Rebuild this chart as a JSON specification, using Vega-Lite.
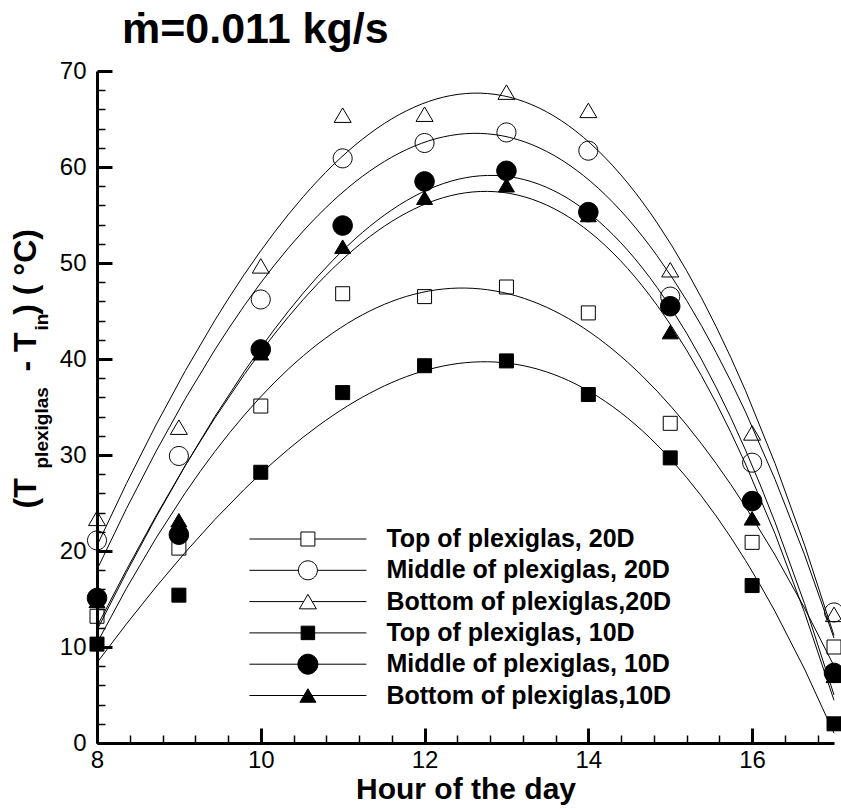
{
  "$schema": "https://vega.github.io/schema/vega-lite/v6.json",
  "autosize": {"type": "none"},
  "padding": {"left": 97, "top": 71, "right": 7, "bottom": 66},
  "width": 737,
  "height": 672,
  "title": {"text": "ṁ=0.011 kg/s", "anchor": "start", "frame": "group", "dx": 25, "fontSize": 43, "fontWeight": "bold", "font": "Liberation Sans", "color": "black", "offset": -27, "baseline": "alphabetic"},
  "config": {"view": {"stroke": null}, "font": "Liberation Sans", "axis": {"grid": false, "domainColor": "black", "tickColor": "black", "labelColor": "black", "titleColor": "black"}},
  "data": {"values": [
    {"series": "Top of plexiglas, 20D", "h": 8, "v": 13.2},
    {"series": "Top of plexiglas, 20D", "h": 9, "v": 20.3},
    {"series": "Top of plexiglas, 20D", "h": 10, "v": 35.1},
    {"series": "Top of plexiglas, 20D", "h": 11, "v": 46.8},
    {"series": "Top of plexiglas, 20D", "h": 12, "v": 46.5},
    {"series": "Top of plexiglas, 20D", "h": 13, "v": 47.5},
    {"series": "Top of plexiglas, 20D", "h": 14, "v": 44.8},
    {"series": "Top of plexiglas, 20D", "h": 15, "v": 33.3},
    {"series": "Top of plexiglas, 20D", "h": 16, "v": 20.9},
    {"series": "Top of plexiglas, 20D", "h": 17, "v": 10.0},
    {"series": "Middle of plexiglas, 20D", "h": 8, "v": 21.1},
    {"series": "Middle of plexiglas, 20D", "h": 9, "v": 29.9},
    {"series": "Middle of plexiglas, 20D", "h": 10, "v": 46.2},
    {"series": "Middle of plexiglas, 20D", "h": 11, "v": 60.9},
    {"series": "Middle of plexiglas, 20D", "h": 12, "v": 62.5},
    {"series": "Middle of plexiglas, 20D", "h": 13, "v": 63.6},
    {"series": "Middle of plexiglas, 20D", "h": 14, "v": 61.7},
    {"series": "Middle of plexiglas, 20D", "h": 15, "v": 46.5},
    {"series": "Middle of plexiglas, 20D", "h": 16, "v": 29.2},
    {"series": "Middle of plexiglas, 20D", "h": 17, "v": 13.6},
    {"series": "Bottom of plexiglas,20D", "h": 8, "v": 23.4},
    {"series": "Bottom of plexiglas,20D", "h": 9, "v": 32.9},
    {"series": "Bottom of plexiglas,20D", "h": 10, "v": 49.7},
    {"series": "Bottom of plexiglas,20D", "h": 11, "v": 65.4},
    {"series": "Bottom of plexiglas,20D", "h": 12, "v": 65.5},
    {"series": "Bottom of plexiglas,20D", "h": 13, "v": 67.8},
    {"series": "Bottom of plexiglas,20D", "h": 14, "v": 65.9},
    {"series": "Bottom of plexiglas,20D", "h": 15, "v": 49.3},
    {"series": "Bottom of plexiglas,20D", "h": 16, "v": 32.3},
    {"series": "Bottom of plexiglas,20D", "h": 17, "v": 13.4},
    {"series": "Top of plexiglas, 10D", "h": 8, "v": 10.3},
    {"series": "Top of plexiglas, 10D", "h": 9, "v": 15.4},
    {"series": "Top of plexiglas, 10D", "h": 10, "v": 28.2},
    {"series": "Top of plexiglas, 10D", "h": 11, "v": 36.5},
    {"series": "Top of plexiglas, 10D", "h": 12, "v": 39.3},
    {"series": "Top of plexiglas, 10D", "h": 13, "v": 39.8},
    {"series": "Top of plexiglas, 10D", "h": 14, "v": 36.3},
    {"series": "Top of plexiglas, 10D", "h": 15, "v": 29.7},
    {"series": "Top of plexiglas, 10D", "h": 16, "v": 16.4},
    {"series": "Top of plexiglas, 10D", "h": 17, "v": 2.0},
    {"series": "Middle of plexiglas, 10D", "h": 8, "v": 15.1},
    {"series": "Middle of plexiglas, 10D", "h": 9, "v": 21.7},
    {"series": "Middle of plexiglas, 10D", "h": 10, "v": 41.0},
    {"series": "Middle of plexiglas, 10D", "h": 11, "v": 53.9},
    {"series": "Middle of plexiglas, 10D", "h": 12, "v": 58.5},
    {"series": "Middle of plexiglas, 10D", "h": 13, "v": 59.6},
    {"series": "Middle of plexiglas, 10D", "h": 14, "v": 55.3},
    {"series": "Middle of plexiglas, 10D", "h": 15, "v": 45.5},
    {"series": "Middle of plexiglas, 10D", "h": 16, "v": 25.2},
    {"series": "Middle of plexiglas, 10D", "h": 17, "v": 7.3},
    {"series": "Bottom of plexiglas,10D", "h": 8, "v": 14.8},
    {"series": "Bottom of plexiglas,10D", "h": 9, "v": 23.2},
    {"series": "Bottom of plexiglas,10D", "h": 10, "v": 40.6},
    {"series": "Bottom of plexiglas,10D", "h": 11, "v": 51.7},
    {"series": "Bottom of plexiglas,10D", "h": 12, "v": 56.8},
    {"series": "Bottom of plexiglas,10D", "h": 13, "v": 58.1},
    {"series": "Bottom of plexiglas,10D", "h": 14, "v": 55.0},
    {"series": "Bottom of plexiglas,10D", "h": 15, "v": 42.8},
    {"series": "Bottom of plexiglas,10D", "h": 16, "v": 23.4},
    {"series": "Bottom of plexiglas,10D", "h": 17, "v": 7.0}
  ]},
  "layer": [
    {
      "transform": [{"regression": "v", "on": "h", "groupby": ["series"], "method": "poly", "order": 3, "extent": [8, 17]}],
      "mark": {"type": "line", "stroke": "black", "strokeWidth": 1},
      "encoding": {
        "x": {"field": "h", "type": "quantitative", "scale": {"domain": [8, 17], "nice": false, "zero": false},
          "axis": {"orient": "bottom", "values": [8, 10, 12, 14, 16], "format": "d", "tickSize": -15, "tickWidth": 3, "domainWidth": 3, "labelFontSize": 24, "labelPadding": 20, "labelFlush": false, "labelOverlap": false, "title": "Hour of the day", "titleFontSize": 30, "titleFontWeight": "bold", "titleY": 55, "titleBaseline": "alphabetic"}},
        "y": {"field": "v", "type": "quantitative", "scale": {"domain": [0, 70], "nice": false, "zero": false},
          "axis": {"orient": "left", "values": [0, 10, 20, 30, 40, 50, 60, 70], "tickSize": -15, "tickWidth": 3, "domainWidth": 3, "labelFontSize": 24, "labelPadding": 26, "labelFlush": false, "labelOverlap": false, "title": "(T\u00a0\u00a0\u00a0\u00a0\u00a0\u00a0\u00a0\u00a0\u00a0\u00a0\u00a0\u00a0-\u00a0T\u00a0\u00a0)\u00a0(\u00a0°C)", "titleFontSize": 32, "titleFontWeight": "bold", "titleAngle": -90, "titleAlign": "left", "titleBaseline": "alphabetic", "titleX": -62, "titleY": 437}},
        "detail": {"field": "series", "type": "nominal"}
      }
    },
    {
      "mark": {"type": "point", "filled": true, "stroke": "black", "strokeWidth": 1, "opacity": 1, "size": 100},
      "encoding": {
        "x": {"field": "h", "type": "quantitative", "scale": {"domain": [8, 17], "nice": false, "zero": false},
          "axis": {"orient": "bottom", "values": [8.4, 8.8, 9.2, 9.6, 10.4, 10.8, 11.2, 11.6, 12.4, 12.8, 13.2, 13.6, 14.4, 14.8, 15.2, 15.6, 16.4, 16.8], "tickSize": -8, "tickWidth": 1.5, "domain": false, "labels": false, "title": null}},
        "y": {"field": "v", "type": "quantitative", "scale": {"domain": [0, 70], "nice": false, "zero": false},
          "axis": {"orient": "left", "values": [2, 4, 6, 8, 12, 14, 16, 18, 22, 24, 26, 28, 32, 34, 36, 38, 42, 44, 46, 48, 52, 54, 56, 58, 62, 64, 66, 68], "tickSize": -8, "tickWidth": 1.5, "domain": false, "labels": false, "title": "plexiglas", "titleFontSize": 19, "titleFontWeight": "bold", "titleAngle": -90, "titleAlign": "left", "titleBaseline": "alphabetic", "titleX": -50, "titleY": 397}},
        "shape": {"field": "series", "type": "nominal", "legend": null,
          "scale": {"domain": ["Top of plexiglas, 20D", "Middle of plexiglas, 20D", "Bottom of plexiglas,20D", "Top of plexiglas, 10D", "Middle of plexiglas, 10D", "Bottom of plexiglas,10D"],
            "range": ["M-1.4,-1.4H1.4V1.4H-1.4Z", "M-1.9,0A1.9,1.9,0,1,1,1.9,0A1.9,1.9,0,1,1,-1.9,0Z", "M0,-1.45L1.7,1.45L-1.7,1.45Z", "M-1.4,-1.4H1.4V1.4H-1.4Z", "M-1.95,0A1.95,1.95,0,1,1,1.95,0A1.95,1.95,0,1,1,-1.95,0Z", "M0,-1.35L1.6,1.35L-1.6,1.35Z"]}},
        "fill": {"field": "series", "type": "nominal", "legend": null,
          "scale": {"domain": ["Top of plexiglas, 20D", "Middle of plexiglas, 20D", "Bottom of plexiglas,20D", "Top of plexiglas, 10D", "Middle of plexiglas, 10D", "Bottom of plexiglas,10D"],
            "range": ["transparent", "transparent", "transparent", "black", "black", "black"]}}
      }
    },
    {
      "transform": [{"filter": "datum.h < 0"}],
      "mark": {"type": "point", "filled": true, "stroke": "black", "strokeWidth": 1, "opacity": 1},
      "encoding": {
        "x": {"field": "h", "type": "quantitative", "scale": {"domain": [8, 17], "nice": false, "zero": false}, "axis": null},
        "y": {"field": "v", "type": "quantitative", "scale": {"domain": [0, 70], "nice": false, "zero": false},
          "axis": {"orient": "left", "domain": false, "ticks": false, "labels": false, "title": "in", "titleFontSize": 19, "titleFontWeight": "bold", "titleAngle": -90, "titleAlign": "left", "titleBaseline": "alphabetic", "titleX": -50, "titleY": 259}},
        "shape": {"field": "series", "type": "nominal",
          "scale": {"domain": ["Top of plexiglas, 20D", "Middle of plexiglas, 20D", "Bottom of plexiglas,20D", "Top of plexiglas, 10D", "Middle of plexiglas, 10D", "Bottom of plexiglas,10D"],
            "range": ["M-11.7,0H-1.4M-1.4,-1.4H1.4V1.4H-1.4ZM1.4,0H11.7", "M-11.7,0H-1.9M-1.9,0A1.9,1.9,0,1,1,1.9,0A1.9,1.9,0,1,1,-1.9,0ZM1.9,0H11.7", "M-11.7,0H-0.85M0,-1.45L1.7,1.45L-1.7,1.45ZM0.85,0H11.7", "M-11.7,0H11.7M-1.35,-1.35H1.35V1.35H-1.35Z", "M-11.7,0H11.7M-2,0A2,2,0,1,1,2,0A2,2,0,1,1,-2,0Z", "M-11.7,0H11.7M0,-1.35L1.6,1.35L-1.6,1.35Z"]},
          "legend": {"title": null, "orient": "none", "legendX": 198.4, "legendY": 455.5, "symbolSize": 100, "symbolStrokeWidth": 1, "labelFont": "Liberation Sans", "labelFontWeight": "bold", "labelFontSize": 25, "labelColor": "black", "labelOffset": 66, "labelLimit": 0, "rowPadding": 5.3, "padding": 0, "symbolLimit": 0,
            "encode": {"symbols": {"update": {"stroke": {"value": "black"}, "strokeWidth": {"value": 1}}}}}},
        "fill": {"field": "series", "type": "nominal",
          "scale": {"domain": ["Top of plexiglas, 20D", "Middle of plexiglas, 20D", "Bottom of plexiglas,20D", "Top of plexiglas, 10D", "Middle of plexiglas, 10D", "Bottom of plexiglas,10D"],
            "range": ["transparent", "transparent", "transparent", "black", "black", "black"]},
          "legend": {"title": null, "orient": "none", "legendX": 198.4, "legendY": 455.5, "symbolSize": 100, "symbolStrokeWidth": 1, "labelFont": "Liberation Sans", "labelFontWeight": "bold", "labelFontSize": 25, "labelColor": "black", "labelOffset": 66, "labelLimit": 0, "rowPadding": 5.3, "padding": 0, "symbolLimit": 0,
            "encode": {"symbols": {"update": {"stroke": {"value": "black"}, "strokeWidth": {"value": 1}}}}}}
      }
    }
  ],
  "resolve": {
    "axis": {"x": "independent", "y": "independent"},
    "scale": {"shape": "independent", "fill": "independent"},
    "legend": {"shape": "independent", "fill": "independent"}
  }
}
